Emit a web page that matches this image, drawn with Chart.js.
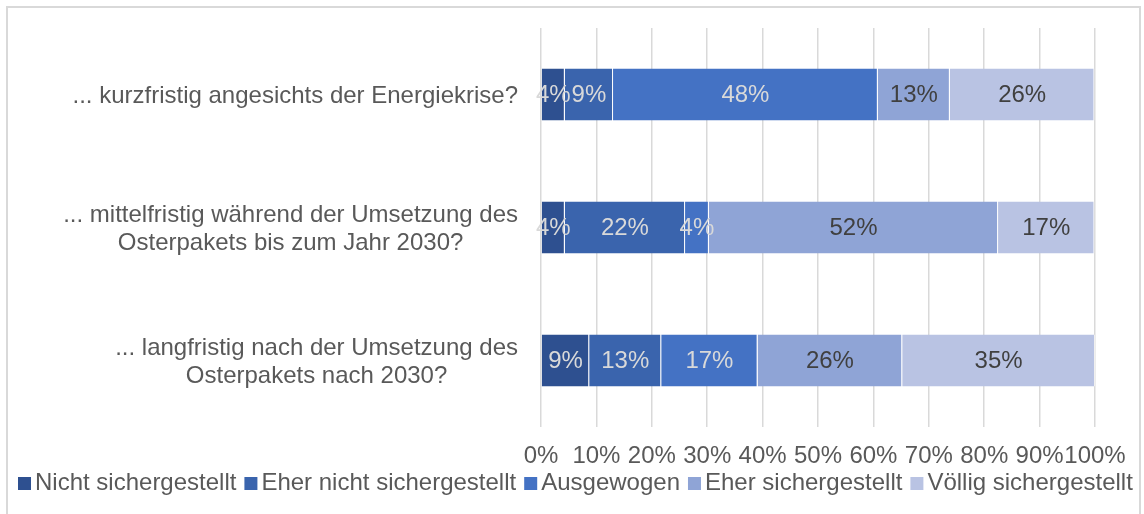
<!DOCTYPE html>
<html>
<head>
<meta charset="utf-8">
<script src="https://cdn.jsdelivr.net/npm/chart.js@4"></script>
<style>
  html, body { margin: 0; padding: 0; background: #fff; }
  #wrap { width: 1144px; height: 514px; position: relative; }
</style>
</head>
<body>
<div id="wrap"><canvas id="chart" width="1144" height="514"></canvas></div>
<script>
const categories = [
  ["... kurzfristig angesichts der Energiekrise?"],
  ["... mittelfristig während der Umsetzung des", "Osterpakets bis zum Jahr 2030?"],
  ["... langfristig nach der Umsetzung des", "Osterpakets nach 2030?"]
];
const seriesNames = ["Nicht sichergestellt", "Eher nicht sichergestellt", "Ausgewogen", "Eher sichergestellt", "Völlig sichergestellt"];
const nichtSicher = [4.3, 4.3, 8.7];
const eherNicht = [8.7, 21.7, 13.0];
const ausgewogen = [47.8, 4.3, 17.4];
const eherSicher = [13.0, 52.2, 26.1];
const voellig = [26.1, 17.4, 34.8];
const xTicks = [0, 10, 20, 30, 40, 50, 60, 70, 80, 90, 100];

const colors = ["#2E5090", "#3A64AD", "#4472C4", "#8FA4D6", "#B9C3E3"];
const labelColors = ["#D9D9D9", "#D9D9D9", "#D9D9D9", "#404040", "#404040"];
const FONT = '"Liberation Sans", Arial, sans-serif';
const textGrey = "#595959";

const seriesData = [nichtSicher, eherNicht, ausgewogen, eherSicher, voellig];

// frame round the whole chart
const framePlugin = {
  id: "frame",
  beforeDraw(chart) {
    const ctx = chart.ctx;
    ctx.save();
    ctx.fillStyle = "#fff";
    ctx.fillRect(0, 0, chart.width, chart.height);
    ctx.strokeStyle = "#D9D9D9";
    ctx.lineWidth = 2;
    ctx.strokeRect(7, 7, 1133, 530);
    ctx.restore();
  }
};

// category labels: block right aligned, lines centred inside it
const yLabelPlugin = {
  id: "yLabels",
  afterDraw(chart) {
    const { ctx, scales: { y } } = chart;
    ctx.save();
    ctx.font = "24px " + FONT;
    ctx.fillStyle = textGrey;
    ctx.textAlign = "center";
    ctx.textBaseline = "middle";
    chart.data.labels.forEach((lines, i) => {
      const yc = y.getPixelForTick(i);
      const w = Math.max(...lines.map(l => ctx.measureText(l).width));
      const cx = 518 - w / 2;
      lines.forEach((l, j) => {
        ctx.fillText(l, cx, yc + 2 + (j - (lines.length - 1) / 2) * 28);
      });
    });
    ctx.restore();
  }
};

const valueLabelPlugin = {
  id: "valueLabels",
  afterDatasetsDraw(chart) {
    const ctx = chart.ctx;
    ctx.save();
    ctx.font = "24px " + FONT;
    ctx.textAlign = "center";
    ctx.textBaseline = "middle";
    chart.data.datasets.forEach((ds, di) => {
      const meta = chart.getDatasetMeta(di);
      ctx.fillStyle = labelColors[di];
      meta.data.forEach((bar, i) => {
        const p = bar.getCenterPoint();
        ctx.fillText(Math.round(ds.data[i]) + "%", p.x, p.y + 1);
      });
    });
    ctx.restore();
  }
};

// one-line legend like the Excel one (small box, tight gaps)
const legendPlugin = {
  id: "lineLegend",
  afterDraw(chart) {
    const ctx = chart.ctx;
    ctx.save();
    ctx.font = "24px " + FONT;
    ctx.textAlign = "left";
    ctx.textBaseline = "middle";
    const yc = 483;
    let x = 18;
    chart.data.datasets.forEach(ds => {
      ctx.fillStyle = ds.backgroundColor;
      ctx.fillRect(x, yc - 6, 13, 13);
      x += 17;
      ctx.fillStyle = textGrey;
      ctx.fillText(ds.label, x, yc);
      x += ctx.measureText(ds.label).width + 8;
    });
    ctx.restore();
  }
};

new Chart(document.getElementById("chart"), {
  type: "bar",
  data: {
    labels: categories,
    datasets: seriesNames.map((name, i) => ({
      label: name,
      data: seriesData[i],
      backgroundColor: colors[i],
      borderColor: "rgba(255,255,255,0.6)",
      borderWidth: { left: 0, right: 1, top: 0, bottom: 0 },
      borderSkipped: false,
      categoryPercentage: 1,
      barPercentage: 0.39
    }))
  },
  options: {
    indexAxis: "y",
    responsive: false,
    animation: false,
    layout: { padding: { top: 28, right: 49, bottom: 45, left: 0 } },
    plugins: {
      legend: { display: false },
      tooltip: { enabled: false }
    },
    scales: {
      x: {
        stacked: true,
        min: 0,
        max: 100,
        afterBuildTicks: s => { s.ticks = xTicks.map(v => ({ value: v })); },
        afterFit: s => { s.height = 42; },
        grid: { color: "#D9D9D9", lineWidth: 1.5, drawTicks: false },
        border: { display: false },
        ticks: {
          padding: 15,
          color: textGrey,
          font: { family: FONT, size: 24 },
          callback: v => v + "%",
          maxRotation: 0,
          autoSkip: false
        }
      },
      y: {
        stacked: true,
        grid: { display: false },
        border: { display: false },
        ticks: { display: false },
        afterFit: s => { s.width = 541; }
      }
    }
  },
  plugins: [framePlugin, yLabelPlugin, valueLabelPlugin, legendPlugin]
});
</script>
</body>
</html>
